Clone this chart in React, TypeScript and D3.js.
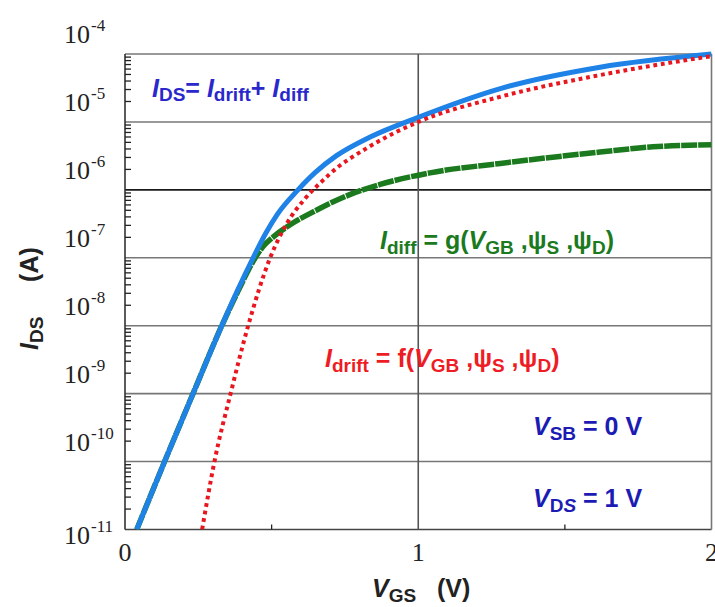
import React from "react";
import * as d3 from "d3";

// I_DS (total), I_drift and I_diff versus V_GS, currents in amperes
const vgsTotal = [0.04, 0.135, 0.232, 0.33, 0.385, 0.437, 0.48, 0.52, 0.59, 0.65, 0.72, 0.836, 1.0, 1.28, 1.62, 2.0];
const idsTotal = [1e-11, 1e-10, 1e-9, 1e-8, 3.4e-8, 1e-7, 2.3e-7, 4.4e-7, 1e-6, 1.82e-6, 3.16e-6, 6.0e-6, 1.17e-5, 3.1e-5, 6.4e-5, 1e-4];

const vgsDrift = [0.263, 0.305, 0.36, 0.42, 0.495, 0.552, 0.61, 0.675, 0.7, 0.836, 1.0, 1.28, 1.62, 2.0];
const idsDrift = [1e-11, 1e-10, 1e-9, 1e-8, 1e-7, 3.2e-7, 7.1e-7, 1.38e-6, 1.74e-6, 4.4e-6, 1e-5, 2.35e-5, 4.9e-5, 9.3e-5];

const vgsDiff = [0.04, 0.135, 0.232, 0.33, 0.385, 0.437, 0.47, 0.51, 0.57, 0.64, 0.76, 0.87, 1.04, 1.28, 1.62, 1.8, 2.0];
const idsDiff = [1e-11, 1e-10, 1e-9, 1e-8, 3.2e-8, 8.9e-8, 1.45e-7, 2.1e-7, 3.2e-7, 4.7e-7, 8.3e-7, 1.2e-6, 1.78e-6, 2.45e-6, 3.6e-6, 4.3e-6, 4.6e-6];

const decadeExponents = [-4, -5, -6, -7, -8, -9, -10, -11];
const xTickValues = [0, 1, 2];
const xMinorTicks = [0.5, 1.5];

const W = 715;
const H = 607;
const left = 125;
const right = 711.5;
const top = 54;
const bottom = 529.5;

const x = d3.scaleLinear().domain([0, 2]).range([left, right]);
const y = d3.scaleLog().domain([1e-11, 1e-4]).range([bottom, top]);

const sans = "'Liberation Sans', Arial, Helvetica, sans-serif";
const serif = "'Liberation Serif', 'Times New Roman', Times, serif";

type Part = { t: string; i?: boolean; sub?: boolean };

function Rich(props: {
  x: number;
  y: number;
  size: number;
  subSize: number;
  color: string;
  parts: Part[];
  subDy?: number;
  transform?: string;
}) {
  const { parts, size, subSize } = props;
  const subDy = props.subDy ?? 5;
  let inSub = false;
  return (
    <text
      x={props.x}
      y={props.y}
      fill={props.color}
      fontFamily={sans}
      fontWeight="bold"
      fontSize={size}
      transform={props.transform}
      style={{ whiteSpace: "pre" }}
    >
      {parts.map((p, k) => {
        let dy = 0;
        if (p.sub && !inSub) dy = subDy;
        if (!p.sub && inSub) dy = -subDy;
        inSub = !!p.sub;
        return (
          <tspan
            key={k}
            dy={dy || undefined}
            fontSize={p.sub ? subSize : size}
            fontStyle={p.i ? "italic" : "normal"}
          >
            {p.t}
          </tspan>
        );
      })}
    </text>
  );
}

function curve(vs: number[], is: number[]) {
  const pts = vs.map((v, k) => [v, is[k]] as [number, number]);
  return d3
    .line<[number, number]>()
    .x((d) => x(d[0]))
    .y((d) => y(d[1]))
    .curve(d3.curveMonotoneX)(pts) as string;
}

export default function App() {
  const minor: number[] = [];
  for (let e = -11; e < -4; e++) {
    for (let m = 2; m <= 9; m++) minor.push(m * Math.pow(10, e));
  }

  return (
    <svg
      width={W}
      height={H}
      viewBox={`0 0 ${W} ${H}`}
      style={{ position: "absolute", left: 0, top: 0, background: "#fff" }}
    >
      <defs>
        <clipPath id="plot-area">
          <rect x={left} y={top - 3} width={right - left} height={bottom - top + 3} />
        </clipPath>
      </defs>
      <rect x={0} y={0} width={W} height={H} fill="#fff" />

      {/* decade gridlines */}
      {decadeExponents.map((e) => (
        <line
          key={e}
          x1={left}
          x2={right}
          y1={y(Math.pow(10, e))}
          y2={y(Math.pow(10, e))}
          stroke={e === -6 ? "#1a1a1a" : e === -11 ? "#444" : "#777"}
          strokeWidth={1.6}
        />
      ))}
      {/* vertical gridline at 1 V */}
      <line x1={x(1)} x2={x(1)} y1={top} y2={bottom} stroke="#555" strokeWidth={1.6} />
      {/* frame */}
      <line x1={right} x2={right} y1={top} y2={bottom} stroke="#777" strokeWidth={1.6} />
      <line x1={left} x2={left} y1={top} y2={bottom} stroke="#333" strokeWidth={1.6} />

      {/* minor ticks on the log axis */}
      {minor.map((v, k) => (
        <line key={k} x1={left} x2={left + 6} y1={y(v)} y2={y(v)} stroke="#222" strokeWidth={1.3} />
      ))}
      {xMinorTicks.map((v) => (
        <line key={v} x1={x(v)} x2={x(v)} y1={bottom} y2={bottom - 5} stroke="#222" strokeWidth={1.3} />
      ))}

      {/* y tick labels */}
      {decadeExponents.map((e, k) => {
        const base = k === decadeExponents.length - 1 ? y(Math.pow(10, e)) + 14 : y(Math.pow(10, e)) - 11;
        return (
          <g key={e} fontFamily={serif} fill="#222">
            <text x={90} y={base} fontSize={26} textAnchor="end">
              10
            </text>
            <text x={91} y={base - 12} fontSize={17}>
              {`-${-e}`}
            </text>
          </g>
        );
      })}

      {/* x tick labels */}
      {xTickValues.map((v) => (
        <text key={v} x={x(v)} y={561} fontFamily={serif} fontSize={26} fill="#222" textAnchor="middle">
          {v}
        </text>
      ))}

      {/* curves */}
      <g clipPath="url(#plot-area)" fill="none">
        <path d={curve(vgsDiff, idsDiff)} stroke="#1b7a1e" strokeWidth={5.5} strokeDasharray="16,1" />
        <path d={curve(vgsTotal, idsTotal)} stroke="#1f82e6" strokeWidth={5} />
        <path d={curve(vgsDrift, idsDrift)} stroke="#e8161e" strokeWidth={4} strokeDasharray="3.8,3.8" />
      </g>

      {/* annotations */}
      <Rich
        x={152}
        y={97}
        size={25}
        subSize={19}
        color="#2a28cc"
        subDy={4}
        parts={[
          { t: "I", i: true },
          { t: "DS", sub: true },
          { t: "= " },
          { t: "I", i: true },
          { t: "drift", sub: true },
          { t: "+ " },
          { t: "I", i: true },
          { t: "diff", sub: true },
        ]}
      />
      <Rich
        x={380}
        y={249}
        size={25}
        subSize={19}
        color="#1b7a1e"
        parts={[
          { t: "I", i: true },
          { t: "diff", sub: true },
          { t: " = g(" },
          { t: "V", i: true },
          { t: "GB", sub: true },
          { t: " ,ψ" },
          { t: "S", sub: true },
          { t: " ,ψ" },
          { t: "D", sub: true },
          { t: ")" },
        ]}
      />
      <Rich
        x={325}
        y={367}
        size={25}
        subSize={19}
        color="#ee1c24"
        parts={[
          { t: "I", i: true },
          { t: "drift", sub: true },
          { t: " = f(" },
          { t: "V", i: true },
          { t: "GB", sub: true },
          { t: " ,ψ" },
          { t: "S", sub: true },
          { t: " ,ψ" },
          { t: "D", sub: true },
          { t: ")" },
        ]}
      />
      <Rich
        x={533}
        y={435}
        size={25}
        subSize={19}
        color="#1c1cb4"
        parts={[{ t: "V", i: true }, { t: "SB", sub: true }, { t: " = 0 V" }]}
      />
      <Rich
        x={533}
        y={507}
        size={25}
        subSize={19}
        color="#1c1cb4"
        parts={[{ t: "V", i: true }, { t: "D", sub: true }, { t: "S", sub: true, i: true }, { t: " = 1 V" }]}
      />

      {/* axis titles */}
      <Rich
        x={372}
        y={597}
        size={25}
        subSize={19}
        color="#222"
        parts={[{ t: "V", i: true }, { t: "GS", sub: true }, { t: "   (V)" }]}
      />
      <Rich
        x={-350}
        y={38}
        size={25}
        subSize={19}
        color="#222"
        transform="rotate(-90)"
        parts={[{ t: "I", i: true }, { t: "DS", sub: true }, { t: "     (A)" }]}
      />
    </svg>
  );
}
